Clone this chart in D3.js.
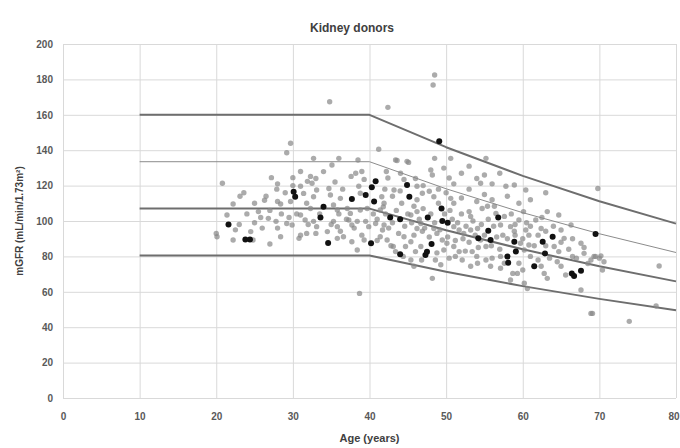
<!DOCTYPE html>
<html>
<head>
<meta charset="utf-8">
<script src="https://cdn.jsdelivr.net/npm/d3@7"></script>
<style>
  body { margin: 0; background: #fff; }
  svg { display: block; font-family: "Liberation Sans", Arial, sans-serif; }
</style>
</head>
<body>
<div id="scatter"></div>
<script>
// values: [age, mGFR]
var donors = [
  [29.7,143.9],[29.2,138.6],[20.8,121.3],[27.2,124.5],[30.0,124.5],[27.9,118],[23.6,116],[23.1,114],
  [26.3,111.7],[22.2,109.6],[28.0,111],[28.4,109.6],[29.7,111],[21.4,103.4],[25.5,105.3],[25.8,102],
  [26.8,101.5],[27.8,99.8],[28.0,96],[29.2,98.6],[29.9,97.7],[20.0,93],[20.1,91.1],[22.2,89.3],
  [24.8,89.3],[28.4,91.1],[27.0,87],[30.8,90.2],
  [34.8,167.4],[42.4,164.2],[41.2,140.5],[32.7,135.4],[36.0,135.4],[38.5,134.5],[43.4,134.5],[35.1,131.6],
  [34.0,127.9],[32.3,125.2],[31.9,122.4],[32.5,121.3],[37.6,125.2],[38.2,127],[39.0,128],[39.3,123.5],
  [42.2,128],[42.4,124.3],[34.7,118.4],[34.9,114.7],[31.0,119.6],[31.4,115.6],[33.1,117.5],[32.7,113.7],
  [36.2,112.8],[38.6,119.6],[38.8,115.7],[41.6,113.7],[41.9,110],[43.2,117.5],[31.8,110],[32.3,107.1],
  [35.3,109],[35.8,106.2],[37.1,107.1],[37.5,104.3],[38.8,106.2],[39.7,107.1],[41.4,106.2],[42.1,104],
  [31.0,103.4],[31.6,100.6],[32.7,99.8],[33.1,96.8],[35.3,99.8],[35.8,96.8],[37.3,100.6],[37.7,97.7],
  [38.4,99.8],[39.5,99.8],[39.9,96.8],[40.8,98.6],[41.9,97.7],[41.7,94.9],[31.0,92],[31.8,93],[33.0,93],
  [36.2,94.2],[36.6,91.1],[35.8,90.2],[37.7,88.3],[39.0,92],[39.3,89.3],[41.4,91.1],[42.3,89.3],
  [38.4,83.6],[43.1,85.6],[43.4,82.7],[38.7,59.1],
  [48.5,182.5],[48.3,176.8],[55.2,135.4],[44.9,133.7],[48.5,135.4],[50.6,135.4],[48.0,128.8],[48.2,126],
  [49.7,129.9],[50.4,124.3],[54.5,121.3],[44.05,127],[44.5,123.5],[46.2,119.6],[46.9,115.7],[47.8,116.8],
  [48.4,113.7],[50.6,112.8],[51.0,110],[45.8,108.3],[46.2,105.3],[45.4,103.4],[53.0,105.3],[53.2,102.6],
  [54.7,107.1],[55.4,108.3],[56.3,108.3],[56.5,104.3],[46.7,98.6],[46.2,95.8],[46.9,94.2],[48.4,95.8],
  [48.8,93],[51.0,96.8],[51.7,94.9],[52.3,93],[53.2,94.9],[54.1,95.8],[44.5,91.1],[45.4,88.3],[44.7,85.6],
  [46.7,85.6],[46.0,82.7],[49.5,89.3],[50.1,87.4],[49.7,83.6],[51.0,85.6],[51.7,82.7],[51.2,80],[52.1,78],
  [53.2,74.4],[54.1,76.1],[55.2,78],[55.8,74.4],[48.2,67.6],[45.4,78],[45.8,74.4],[48.6,78],[49.3,75.3],
  [54.5,89.3],[55.2,85.6],[53.4,82.7],[43.6,134.2],[45.1,133.1],
  [57.8,119.6],[58.9,120.3],[58.0,114],[60.4,117.5],[63.0,116],[69.8,118.4],[60.1,105.3],[59.5,100.6],
  [63.2,105.3],[64.7,103.4],[61.7,100.6],[66.3,97.7],[57.6,102.6],[57.1,97.7],[58.4,96.8],[58.9,94.2],
  [60.4,94.9],[60.8,92],[62.4,95.8],[63.0,94.2],[65.0,94.9],[65.4,90.2],[67.6,87.4],[59.7,87.4],[60.2,83.6],
  [60.8,86.4],[64.1,85.6],[64.7,82.7],[66.5,80],[68.0,81.7],[69.3,80],[70.0,79],[57.1,80],[57.6,76.1],
  [57.1,73.3],[59.5,76.1],[60.0,72.3],[59.3,70.4],[62.4,74.4],[62.8,70.4],[63.2,67.6],[60.6,61.9],
  [60.2,64.8],[65.0,74.4],[65.6,69.5],[67.6,61],[68.9,47.8],[58.7,70.4],[58.4,66.7],
  [69.5,80],[70.2,80.3],[70.6,77],[68.9,78],[70.4,72.3],[77.8,74.6],[69.1,47.8],[73.9,43.3],[77.4,52],
  [40.5,104],[41,101],[41.8,108],[42.5,96],[43,99],[43.5,106],[43.8,93],[44.2,110],[44.6,97],[45,104],
  [45.5,99],[45.8,92],[46.2,112],[46.5,101],[47,107],[47.2,96],[47.8,91],[48,104],[48.5,99],[49,110],
  [49.2,95],[49.8,104],[50.2,91],[50.5,106],[50.8,101],[51.2,89],[51.5,99],[52,104],[52.2,90],[52.6,97],
  [53,88],[53.5,100],[53.8,92],[54.2,85],[54.6,98],[55,92],[55.5,101],[55.9,86],[56.2,97],[56.6,91],
  [57,84],[57.4,92],[42,118],[43,114],[44,117],[46,124],[47,120],[49,118],[50,116],[51,121],[52,113],
  [53,118],[54,111],[55,115],[56,112],[41,89],[42.8,86],[44.4,80],[46.8,78],[48.8,82],[50.4,79],
  [52.5,83],[54,80],[56,79],[38,96],[37,101],[36,104],[35,98],[34.5,94],[33.5,104],[32,98],[30.5,104],
  [29.5,102],[28.5,104],[27,106],[26,96],[25,99],[24,104],[23,98],[36.5,118],[35.5,122],[33,124],
  [31,128],[30,120],[29,116],[28,121],[26.5,114],[25,110],[24.5,94],[22.5,95],[58,90],[59,98],[60,90],
  [61,97],[61.5,86],[62,92],[63,86],[63.5,79],[64,97],[65,88],[66,84],[66.5,90],[67,79],[68,85],
  [68.5,76],[61,80],[62,78],[64.5,77],[59,92],[60.5,99],[58.5,104],[62.5,102],[59.5,110],[61,112],
  [56,121],[57,127],[55,126],[53,131],[52,127],[54,124]
];

// highlighted donors (black dots)
var highlighted = [
  [21.6,98],[23.8,89.5],[24.4,89.5],[30.1,116.5],[30.3,113.7],[34.0,108],[33.6,102],[34.6,87.6],
  [37.7,112.4],[39.5,114.7],[40.3,119],[40.8,122.4],[40.6,111],[42.7,102],[40.2,87.4],[44.0,101],
  [44.9,120.3],[45.2,113.7],[47.6,102],[44.0,81.2],[47.3,80.8],[47.5,82.6],[48.1,87],[49.1,145],
  [49.4,107],[49.5,100],[50.2,99],[54.2,90.2],[55.5,94.5],[55.8,89.3],[56.8,102],[58.9,88.3],
  [59.1,82.7],[58.0,80],[58.1,76.4],[61.5,74.4],[62.6,88.3],[62.9,81.7],[63.9,91.1],[66.4,70.4],
  [66.7,68.9],[67.6,71.9],[69.5,92.6]
];

// reference curves
var refAges = [10, 40, 50, 60, 70, 80];
var plus2sd = [160, 160, 141.7, 125.5, 111.2, 98.5];
var plus1sd = [133.5, 133.5, 118.2, 104.7, 92.8, 82.2];
var meanLine = [107, 107, 94.8, 84, 74.4, 65.9];
var minus1sd = [80.5, 80.5, 71.3, 63.2, 56, 49.6];

var xTicks = [0, 10, 20, 30, 40, 50, 60, 70, 80];
var yTicks = [0, 20, 40, 60, 80, 100, 120, 140, 160, 180, 200];

var svgWidth = 680;
var svgHeight = 448;
var margin = { top: 44, right: 4, bottom: 50, left: 63 };
var chartWidth = svgWidth - margin.left - margin.right;
var chartHeight = svgHeight - margin.top - margin.bottom;

var svg = d3.select("#scatter")
  .append("svg")
  .attr("width", svgWidth)
  .attr("height", svgHeight);

var chartGroup = svg.append("g")
  .attr("transform", `translate(${margin.left}, ${margin.top})`);

var xScale = d3.scaleLinear().domain([0, 80]).range([0, chartWidth]);
var yScale = d3.scaleLinear().domain([0, 200]).range([chartHeight, 0]);

// gridlines
chartGroup.append("g")
  .attr("class", "grid")
  .attr("transform", `translate(0, ${chartHeight})`)
  .call(d3.axisBottom(xScale).tickValues(xTicks).tickSize(-chartHeight).tickFormat(""));
chartGroup.append("g")
  .attr("class", "grid")
  .call(d3.axisLeft(yScale).tickValues(yTicks).tickSize(-chartWidth).tickFormat(""));
chartGroup.selectAll(".grid .domain").remove();
chartGroup.selectAll(".grid line").attr("stroke", "#d9d9d9").attr("stroke-width", 1);

// tick labels
var xAxis = chartGroup.append("g")
  .attr("transform", `translate(0, ${chartHeight})`)
  .call(d3.axisBottom(xScale).tickValues(xTicks).tickSize(0).tickPadding(15));
var yAxis = chartGroup.append("g")
  .call(d3.axisLeft(yScale).tickValues(yTicks).tickSize(0).tickPadding(10));
[xAxis, yAxis].forEach(function(ax) {
  ax.select(".domain").remove();
  ax.selectAll("text")
    .attr("font-family", "Liberation Sans, Arial, sans-serif")
    .attr("font-size", "10px")
    .attr("font-weight", "bold")
    .attr("fill", "#595959");
});
// last x label sits on the edge, keep it inside the page
xAxis.selectAll("text")
  .filter(function(d) { return d === 80; })
  .attr("text-anchor", "end")
  .attr("x", 3);

// reference lines
var line = d3.line()
  .x(function(d) { return xScale(d[0]); })
  .y(function(d) { return yScale(d[1]); });

var refLines = [
  { values: plus2sd, width: 2 },
  { values: plus1sd, width: 1 },
  { values: meanLine, width: 2 },
  { values: minus1sd, width: 2 }
];
refLines.forEach(function(r) {
  chartGroup.append("path")
    .datum(refAges.map(function(a, i) { return [a, r.values[i]]; }))
    .attr("d", line)
    .attr("fill", "none")
    .attr("stroke", r.width > 1 ? "#6e6e6e" : "#8c8c8c")
    .attr("stroke-width", r.width)
    .attr("stroke-linejoin", "round");
});

// points
chartGroup.selectAll("circle.donor")
  .data(donors)
  .enter()
  .append("circle")
  .attr("class", "donor")
  .attr("cx", function(d) { return xScale(d[0]); })
  .attr("cy", function(d) { return yScale(d[1]); })
  .attr("r", 2.7)
  .style("fill", "#888")
  .style("fill-opacity", 0.7);

chartGroup.selectAll("circle.hl")
  .data(highlighted)
  .enter()
  .append("circle")
  .attr("class", "hl")
  .attr("cx", function(d) { return xScale(d[0]); })
  .attr("cy", function(d) { return yScale(d[1]); })
  .attr("r", 3)
  .style("fill", "#111");

// titles
svg.append("text")
  .text("Kidney donors")
  .attr("x", 352)
  .attr("y", 32)
  .attr("text-anchor", "middle")
  .attr("font-size", "12px")
  .attr("font-weight", "bold")
  .attr("fill", "#404040");

svg.append("text")
  .text("Age (years)")
  .attr("x", margin.left + chartWidth / 2)
  .attr("y", 442)
  .attr("text-anchor", "middle")
  .attr("font-size", "11px")
  .attr("font-weight", "bold")
  .attr("fill", "#404040");

svg.append("text")
  .text("mGFR (mL/min/1.73m\u00B2)")
  .attr("transform", `translate(23, ${margin.top + chartHeight / 2}) rotate(-90)`)
  .attr("text-anchor", "middle")
  .attr("font-size", "10px")
  .attr("font-weight", "bold")
  .attr("fill", "#404040");
</script>
</body>
</html>
